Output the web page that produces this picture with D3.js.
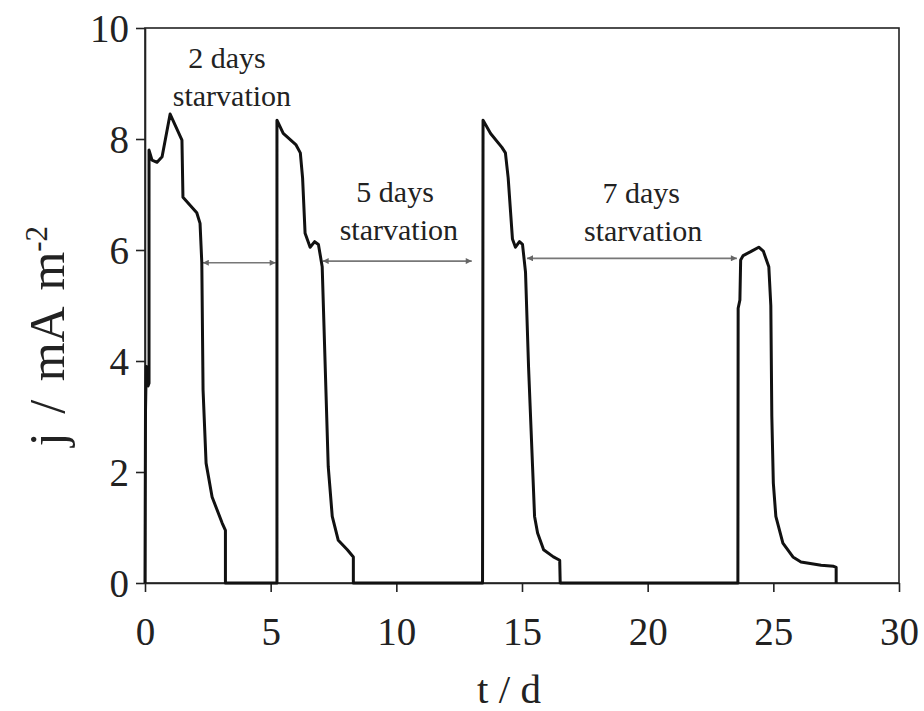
<!DOCTYPE html>
<html>
<head>
<meta charset="utf-8">
<script src="https://cdn.jsdelivr.net/npm/d3@7/dist/d3.min.js"></script>
<style>
  html, body { margin: 0; padding: 0; background: #fff; }
  svg { display: block; }
  text { font-family: "Liberation Serif", "Times New Roman", serif; fill: #222; }
</style>
</head>
<body>
<svg id="chart" width="924" height="711"></svg>
<script>
// Current density j (mA m^-2) over time t (days), four feeding cycles
// separated by starvation periods.
const timeDays = [
  0, 0.02, 0.05, 0.12, 0.16, 0.16, 0.28, 0.48, 0.68, 1.0, 1.47, 1.51, 2.06, 2.19, 2.26, 2.31,
  2.43, 2.67, 3.07, 3.2, 3.2,
  5.25, 5.25, 5.5, 6.0, 6.18, 6.27, 6.37, 6.57, 6.75, 6.9, 7.05, 7.17, 7.29, 7.45, 7.69, 8.05, 8.29, 8.29,
  13.43, 13.45, 13.75, 14.2, 14.34, 14.45, 14.62, 14.74, 14.9, 15.02, 15.14, 15.26, 15.42, 15.5, 15.62,
  15.86, 16.25, 16.5, 16.52,
  23.59, 23.6, 23.67, 23.7, 23.8, 24.1, 24.42, 24.6, 24.82, 24.9, 24.94, 25.0, 25.1, 25.38, 25.78,
  26.1, 26.9, 27.4, 27.5, 27.5
];
const currentDensity = [
  0, 3.1, 3.9, 3.55, 3.6, 7.8, 7.62, 7.58, 7.68, 8.45, 7.98, 6.95, 6.67, 6.48, 5.77, 3.48,
  2.16, 1.55, 1.08, 0.95, 0,
  0, 8.34, 8.1, 7.9, 7.75, 7.3, 6.3, 6.05, 6.15, 6.1, 5.7, 3.9, 2.1, 1.2, 0.77, 0.6, 0.47, 0,
  0, 8.34, 8.1, 7.85, 7.75, 7.3, 6.2, 6.05, 6.15, 6.1, 5.6, 3.9, 2.1, 1.2, 0.9,
  0.6, 0.47, 0.41, 0,
  0, 4.95, 5.1, 5.82, 5.9, 5.97, 6.05, 5.98, 5.7, 5.0, 3.0, 1.8, 1.2, 0.72, 0.47,
  0.38, 0.32, 0.3, 0.28, 0
];

// Starvation periods: start and end time, and the current level of the arrow
const starvationStart = [2.3, 7.07, 15.2];
const starvationEnd = [5.2, 13.0, 23.55];
const starvationLevel = [5.77, 5.8, 5.85];
const starvationLabel = ["2 days", "5 days", "7 days"];

const xTicks = [0, 5, 10, 15, 20, 25, 30];
const yTicks = [0, 2, 4, 6, 8, 10];

const svg = d3.select("#chart");
const plotLeft = 145, plotRight = 899, plotTop = 28, plotBottom = 583;

const x = d3.scaleLinear().domain([0, 30]).range([plotLeft, plotRight]);
const y = d3.scaleLinear().domain([0, 10]).range([plotBottom, plotTop]);

// Plot frame
svg.append("rect")
  .attr("x", plotLeft).attr("y", plotTop)
  .attr("width", plotRight - plotLeft).attr("height", plotBottom - plotTop)
  .attr("fill", "none").attr("stroke", "#222").attr("stroke-width", 1.6);

// Axes
const xAxis = svg.append("g")
  .attr("transform", `translate(0,${plotBottom})`)
  .call(d3.axisBottom(x).tickValues(xTicks).tickSize(9).tickSizeOuter(0).tickPadding(25));
const yAxis = svg.append("g")
  .attr("transform", `translate(${plotLeft},0)`)
  .call(d3.axisLeft(y).tickValues(yTicks).tickSize(9).tickSizeOuter(0).tickPadding(7));

[xAxis, yAxis].forEach(g => {
  g.select(".domain").attr("stroke", "#222").attr("stroke-width", 1.6);
  g.selectAll(".tick line").attr("stroke", "#222").attr("stroke-width", 1.6);
  g.selectAll(".tick text")
    .attr("fill", "#222")
    .style("font-family", "'Liberation Serif', 'Times New Roman', serif")
    .style("font-size", "39px");
});
xAxis.selectAll(".tick text").attr("dy", "0.71em");
yAxis.selectAll(".tick text").attr("dy", "0.34em");

// Axis titles
svg.append("text")
  .attr("x", 509).attr("y", 703)
  .attr("text-anchor", "middle")
  .style("font-size", "41px")
  .text("t / d");

const yTitle = svg.append("text")
  .attr("transform", "translate(64,336) rotate(-90)")
  .attr("text-anchor", "middle")
  .style("font-size", "50px")
  .style("word-spacing", "6px");
yTitle.append("tspan").text("j / mA m");
yTitle.append("tspan").attr("dy", "-0.55em").style("font-size", "31px").text("-2");

// Starvation arrows
const defs = svg.append("defs");
defs.append("marker")
  .attr("id", "arrow-end")
  .attr("viewBox", "0 0 10 10").attr("refX", 10).attr("refY", 5)
  .attr("markerWidth", 10).attr("markerHeight", 6)
  .attr("markerUnits", "userSpaceOnUse")
  .attr("orient", "auto")
  .append("path").attr("d", "M0,0 L10,5 L0,10 z").attr("fill", "#666");
defs.append("marker")
  .attr("id", "arrow-start")
  .attr("viewBox", "0 0 10 10").attr("refX", 0).attr("refY", 5)
  .attr("markerWidth", 10).attr("markerHeight", 6)
  .attr("markerUnits", "userSpaceOnUse")
  .attr("orient", "auto")
  .append("path").attr("d", "M10,0 L0,5 L10,10 z").attr("fill", "#666");

svg.selectAll("line.starve")
  .data(starvationStart)
  .join("line")
  .attr("class", "starve")
  .attr("x1", (d, i) => x(d)).attr("x2", (d, i) => x(starvationEnd[i]))
  .attr("y1", (d, i) => y(starvationLevel[i])).attr("y2", (d, i) => y(starvationLevel[i]))
  .attr("stroke", "#777").attr("stroke-width", 1.6)
  .attr("marker-start", "url(#arrow-start)")
  .attr("marker-end", "url(#arrow-end)");

// Starvation labels: first line (duration) and second line centres, baseline level
const labelX1 = [3.26, 9.95, 19.74];
const labelX2 = [3.46, 10.1, 19.82];
const labelY = [9.28, 6.87, 6.85];
starvationLabel.forEach((lab, i) => {
  const t = svg.append("text")
    .attr("text-anchor", "middle")
    .style("font-size", "30px")
    .attr("y", y(labelY[i]));
  t.append("tspan").attr("x", x(labelX1[i])).text(lab);
  t.append("tspan").attr("x", x(labelX2[i])).attr("dy", 38).text("starvation");
});

// Current density trace
const points = timeDays.map((t, i) => [t, currentDensity[i]]);
svg.append("path")
  .datum(points)
  .attr("fill", "none")
  .attr("stroke", "#111")
  .attr("stroke-width", 3)
  .attr("stroke-linejoin", "round")
  .attr("d", d3.line().x(d => x(d[0])).y(d => y(d[1])));
</script>
</body>
</html>
